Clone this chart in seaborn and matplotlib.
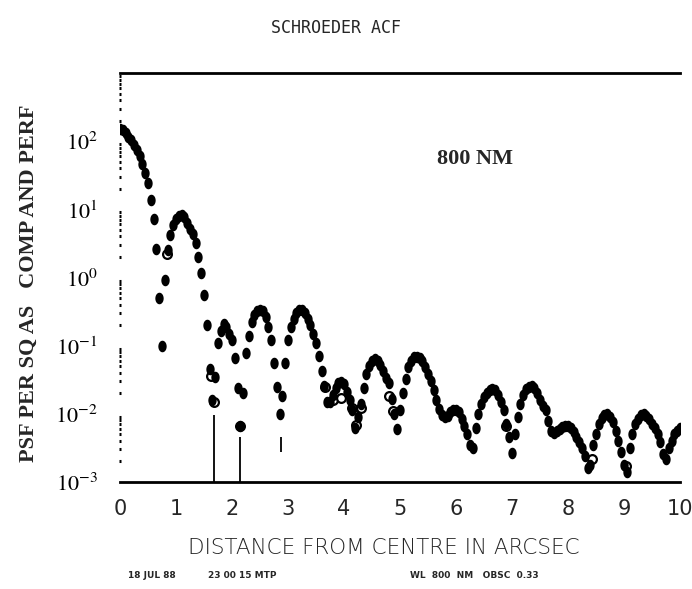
import numpy as np
import pandas as pd
import matplotlib
matplotlib.use("Agg")
import matplotlib.pyplot as plt
import seaborn as sns
from matplotlib.ticker import LogLocator, FixedLocator, NullFormatter

# ---------------- data ----------------
psf_x = [
    0.00, 0.05, 0.10, 0.15, 0.20, 0.25, 0.30, 0.35, 0.40, 0.45,
    0.50, 0.55, 0.60, 0.65, 0.70, 0.75, 0.80, 0.85, 0.90, 0.95,
    1.00, 1.05, 1.10, 1.15, 1.20, 1.25, 1.30, 1.35, 1.40, 1.45,
    1.50, 1.55, 1.60, 1.65, 1.70, 1.75, 1.80, 1.85, 1.90, 1.95,
    2.00, 2.05, 2.10, 2.15, 2.20, 2.25, 2.30, 2.35, 2.40, 2.45,
    2.50, 2.55, 2.60, 2.65, 2.70, 2.75, 2.80, 2.85, 2.90, 2.95,
    3.00, 3.05, 3.10, 3.15, 3.20, 3.25, 3.30, 3.35, 3.40, 3.45,
    3.50, 3.55, 3.60, 3.65, 3.70, 3.75, 3.80, 3.85, 3.90, 3.95,
    4.00, 4.05, 4.10, 4.15, 4.20, 4.25, 4.30, 4.35, 4.40, 4.45,
    4.50, 4.55, 4.60, 4.65, 4.70, 4.75, 4.80, 4.85, 4.90, 4.95,
    5.00, 5.05, 5.10, 5.15, 5.20, 5.25, 5.30, 5.35, 5.40, 5.45,
    5.50, 5.55, 5.60, 5.65, 5.70, 5.75, 5.80, 5.85, 5.90, 5.95,
    6.00, 6.05, 6.10, 6.15, 6.20, 6.25, 6.30, 6.35, 6.40, 6.45,
    6.50, 6.55, 6.60, 6.65, 6.70, 6.75, 6.80, 6.85, 6.90, 6.95,
    7.00, 7.05, 7.10, 7.15, 7.20, 7.25, 7.30, 7.35, 7.40, 7.45,
    7.50, 7.55, 7.60, 7.65, 7.70, 7.75, 7.80, 7.85, 7.90, 7.95,
    8.00, 8.05, 8.10, 8.15, 8.20, 8.25, 8.30, 8.35, 8.40, 8.45,
    8.50, 8.55, 8.60, 8.65, 8.70, 8.75, 8.80, 8.85, 8.90, 8.95,
    9.00, 9.05, 9.10, 9.15, 9.20, 9.25, 9.30, 9.35, 9.40, 9.45,
    9.50, 9.55, 9.60, 9.65, 9.70, 9.75, 9.80, 9.85, 9.90, 9.95,
    10.00,
]
psf_comp = [
    151, 145, 132, 117, 105, 89, 74, 60, 47, 34,
    24, 13.5, 7.1, 2.6, 0.50, 0.10, 0.91, 2.5, 4.2, 5.8,
    7.2, 8.1, 8.3, 7.6, 6.3, 5.2, 4.3, 3.2, 2.0, 1.15,
    0.56, 0.20, 0.045, 0.016, 0.035, 0.11, 0.166, 0.21, 0.19, 0.15,
    0.12, 0.066, 0.024, 0.0066, 0.020, 0.079, 0.14, 0.22, 0.28, 0.32,
    0.33, 0.32, 0.26, 0.19, 0.12, 0.056, 0.025, 0.010, 0.018, 0.056,
    0.12, 0.19, 0.25, 0.30, 0.33, 0.33, 0.30, 0.25, 0.20, 0.15,
    0.11, 0.071, 0.043, 0.026, 0.0148, 0.0151, 0.019, 0.024, 0.028, 0.029,
    0.027, 0.021, 0.0158, 0.0112, 0.0063, 0.0089, 0.0141, 0.024, 0.038, 0.050,
    0.060, 0.063, 0.060, 0.052, 0.042, 0.033, 0.028, 0.0166, 0.010, 0.0060,
    0.0112, 0.020, 0.032, 0.048, 0.060, 0.068, 0.069, 0.066, 0.059, 0.048,
    0.038, 0.030, 0.022, 0.0158, 0.0117, 0.0095, 0.0089, 0.0093, 0.0105, 0.0112,
    0.0115, 0.0105, 0.0083, 0.0066, 0.0050, 0.0035, 0.0032, 0.0063, 0.0100, 0.0138,
    0.0174, 0.020, 0.022, 0.023, 0.022, 0.019, 0.0151, 0.0112, 0.0071, 0.0045,
    0.0027, 0.0050, 0.0089, 0.0141, 0.019, 0.023, 0.025, 0.026, 0.024, 0.020,
    0.0158, 0.0132, 0.0112, 0.0079, 0.0056, 0.0052, 0.0056, 0.0060, 0.0065, 0.0066,
    0.0066, 0.0063, 0.0054, 0.0045, 0.0038, 0.0032, 0.0024, 0.0016, 0.0018, 0.0035,
    0.0050, 0.0071, 0.0087, 0.0095, 0.0098, 0.0089, 0.0076, 0.0056, 0.0040, 0.0028,
    0.0018, 0.0014, 0.0032, 0.0050, 0.0071, 0.0085, 0.0095, 0.0098, 0.0093, 0.0083,
    0.0071, 0.0063, 0.0050, 0.0038, 0.0026, 0.0022, 0.0032, 0.0040, 0.0050, 0.0056,
    0.0063,
]

# perfect-telescope points that show as open circles near the nulls
perf_x = [0.84, 1.63, 1.67, 2.15, 3.66, 3.81, 3.94, 4.14, 4.21, 4.31, 4.81, 4.88, 6.90, 8.42, 9.04]
perf_y = [2.2, 0.036, 0.0148, 0.0066, 0.0245, 0.016, 0.017, 0.0123, 0.0069, 0.0123, 0.018, 0.011, 0.0066, 0.0022, 0.0017]

# deep nulls drawn as thin vertical drops
drop_x = [1.68, 2.15, 2.87]
drop_top = [0.0095, 0.0045, 0.0045]
drop_bottom = [0.001, 0.001, 0.0028]

x_ticks = [0, 1, 2, 3, 4, 5, 6, 7, 8, 9, 10]
x_ticklabels = ["0", "1", "2", "3", "4", "5", "6", "7", "8", "9", "10"]
y_ticks = [1e-3, 1e-2, 1e-1, 1e0, 1e1, 1e2]
y_ticklabels = [r"$10^{-3}$", r"$10^{-2}$", r"$10^{-1}$", r"$10^{0}$", r"$10^{1}$", r"$10^{2}$"]

title = "SCHROEDER ACF"
xlabel = "DISTANCE FROM CENTRE IN ARCSEC"
ylabel = "PSF PER SQ AS   COMP AND PERF"
annot = "800 NM"
footer_left = "18 JUL 88"
footer_mid = "23 00 15 MTP"
footer_right = "WL  800  NM   OBSC  0.33"

# ---------------- plot ----------------
sns.set_style("white")
plt.rcParams["mathtext.fontset"] = "stix"

fig = plt.figure(figsize=(6.92, 5.89), dpi=100)
ax = fig.add_axes([120 / 692, 1 - 482 / 589, 560 / 692, (482 - 73) / 589])

comp_df = pd.DataFrame({"x": psf_x, "y": psf_comp})
perf_df = pd.DataFrame({"x": perf_x, "y": perf_y})

# slightly tall elliptical dot, like the plotter pen dots
t = np.linspace(0, 2 * np.pi, 25)
dot = list(zip(0.72 * np.cos(t), np.sin(t)))

ax.vlines(drop_x, drop_bottom, drop_top, colors="black", linewidth=1.3, zorder=2)
sns.scatterplot(data=perf_df, x="x", y="y", ax=ax, s=40, marker="o",
                facecolor="white", edgecolor="black", linewidth=1.6, zorder=3)
sns.scatterplot(data=comp_df, x="x", y="y", ax=ax, s=70, marker=dot, color="black",
                linewidth=0, zorder=4)

ax.set_yscale("log")
ax.set_xlim(0, 10)
ax.set_ylim(1e-3, 1e3)

ax.xaxis.set_major_locator(FixedLocator(x_ticks))
ax.set_xticklabels(x_ticklabels, fontsize=15, family="DejaVu Sans")
ax.yaxis.set_major_locator(FixedLocator(y_ticks))
ax.set_yticklabels(y_ticklabels, fontsize=16)
ax.yaxis.set_minor_locator(LogLocator(base=10, subs=np.arange(2, 10), numticks=20))
ax.yaxis.set_minor_formatter(NullFormatter())

ax.tick_params(axis="x", which="major", length=0, pad=12)
ax.tick_params(axis="y", which="major", direction="inout", length=4, width=2.2, pad=14, colors="black")
ax.tick_params(axis="y", which="minor", left=True, direction="inout", length=1.6, width=2.2, colors="black")

ax.spines["right"].set_visible(False)
ax.spines["left"].set_visible(False)
ax.spines["top"].set_linewidth(2.0)
ax.spines["bottom"].set_linewidth(2.0)
ax.spines["top"].set_color("black")
ax.spines["bottom"].set_color("black")

ax.set_xlabel("")
ax.set_ylabel("")

fig.text(0.485, 1 - 28 / 589, title, ha="center", va="center",
         fontsize=12, family="DejaVu Sans Mono")
fig.text(0.555, 1 - 548 / 589, xlabel, ha="center", va="center",
         fontsize=15.5, family="DejaVu Sans", weight="light")
fig.text(29 / 692, 1 - 283 / 589, ylabel, ha="center", va="center", rotation=90,
         fontsize=16, family="Liberation Serif", weight="bold")
ax.text(0.634, 0.79, annot, transform=ax.transAxes, ha="center", va="center",
        fontsize=16, family="Liberation Serif", weight="bold")
fig.text(128 / 692, 1 - 575 / 589, footer_left, ha="left", va="center",
         fontsize=6.5, family="DejaVu Sans", weight="bold")
fig.text(208 / 692, 1 - 575 / 589, footer_mid, ha="left", va="center",
         fontsize=6.5, family="DejaVu Sans", weight="bold")
fig.text(410 / 692, 1 - 575 / 589, footer_right, ha="left", va="center",
         fontsize=6.5, family="DejaVu Sans", weight="bold")

fig.savefig("out.png", dpi=100, facecolor="white")
